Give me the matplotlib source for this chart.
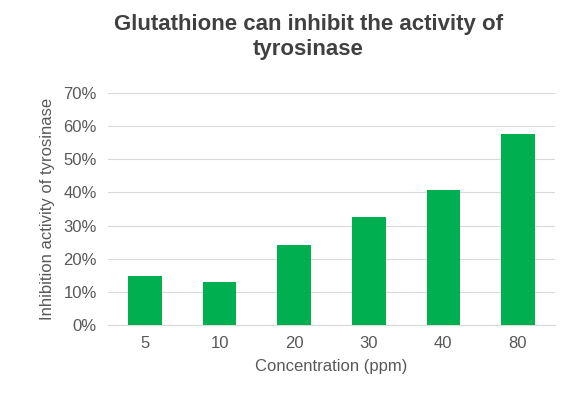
import matplotlib
matplotlib.use("Agg")
import matplotlib.pyplot as plt
from matplotlib.ticker import PercentFormatter

categories = ["5", "10", "20", "30", "40", "80"]
values = [14.7, 13.0, 24.0, 32.7, 40.8, 57.6]
yticks = [0, 10, 20, 30, 40, 50, 60, 70]

plt.rcParams['font.family'] = ['Liberation Sans', 'DejaVu Sans']
fig = plt.figure(figsize=(5.87, 4.11), dpi=100)
ax = fig.add_axes([108/587, 1-325/411, 447/587, 232/411])
ax.bar(categories, values, width=0.45, color="#00B050", zorder=3)
ax.set_ylim(0, 70)
ax.set_yticks(yticks)
ax.yaxis.set_major_formatter(PercentFormatter(decimals=0))
ax.grid(axis="y", color="#D9D9D9", linewidth=0.8, zorder=0)
for s in ["top", "right", "left"]:
    ax.spines[s].set_visible(False)
ax.spines["bottom"].set_color("#D9D9D9")
ax.tick_params(axis="both", length=0, labelsize=12, colors="#595959", pad=8)
ax.set_xlabel("Concentration (ppm)", fontsize=12, color="#595959", labelpad=6)
ax.set_ylabel("Inhibition activity of tyrosinase", fontsize=12, color="#595959", labelpad=6)
fig.suptitle("Glutathione can inhibit the activity of\ntyrosinase", fontsize=16,
             fontweight="bold", color="#404040", x=0.525, y=0.965, linespacing=1.2)
fig.savefig("out.png", dpi=100)
